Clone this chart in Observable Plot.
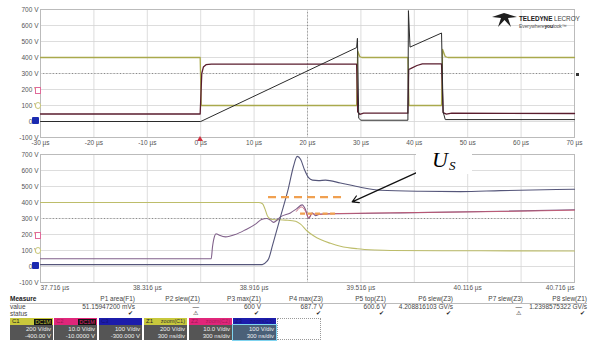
<!DOCTYPE html>
<html><head><meta charset="utf-8">
<script src="https://cdn.jsdelivr.net/npm/d3@7"></script>
<script src="https://cdn.jsdelivr.net/npm/@observablehq/plot@0.6"></script>
<style>
body{margin:0;background:#fff;font-family:"Liberation Sans",Arial,sans-serif;}
#root{position:relative;width:592px;height:351px;overflow:hidden;background:#fff;}
.abs{position:absolute;white-space:nowrap;}
.tb{font-size:6.5px;color:#444;line-height:7px;}
</style></head><body><div id="root"></div>
<script>
// ---------- data ----------
const yTicks = [-100, 0, 100, 200, 300, 400, 500, 600, 700];
const topXTicks = [-30, -20, -10, 0, 10, 20, 30, 40, 50, 60, 70];
const botGrid = [37.716, 38.016, 38.316, 38.616, 38.916, 39.216, 39.516, 39.816, 40.116, 40.416, 40.716];
const botLabels = [38.316, 38.916, 39.516, 40.116];
const botFirst = [37.716];
const botLast = [40.716];

// top panel (µs, V)
const topYellowT = [-30, -0.1, 0.1, 29.2, 29.4, 29.8, 30.2, 38.8, 39.0, 45.1, 45.3, 45.8, 46.3, 70];
const topYellowV = [400, 400, 100, 100, 440, 405, 400, 400, 100, 100, 450, 405, 400, 400];
const topMaroonT = [-30, -0.1, 0.2, 0.5, 1, 2, 29.2, 29.4, 29.8, 30.5, 38.8, 38.95, 39.3, 40.5, 41.5, 45.1, 45.4, 46, 47, 70];
const topMaroonV = [47, 47, 300, 340, 355, 358, 358, 60, 45, 52, 52, 325, 330, 350, 360, 360, 55, 46, 52, 50];
const topRampT = [-30, 0, 29.2, 29.35, 29.6, 30, 38.8, 38.9, 39.2, 45.1, 45.4, 45.8, 70];
const topRampV = [0, 0, 462, 520, 20, 8, 8, 693, 465, 553, 60, 12, 12];

// bottom (zoom) panel (µs, V)
const botYellowT = [37.716, 38.941, 38.963, 38.977, 38.990, 39.003, 39.018, 39.092, 39.149, 39.177, 39.214, 39.250, 39.289, 39.345, 39.401, 39.495, 39.598, 39.682, 40.188, 40.716];
const botYellowV = [400, 400, 392, 360, 318, 300, 294, 290, 283, 265, 222, 192, 168, 145, 127, 111, 103, 100, 98, 97];
const botPurpleT = [37.716, 38.675, 38.682, 38.694, 38.702, 38.716, 38.755, 38.811, 38.868, 38.924, 38.958, 38.986, 39.008, 39.025, 39.047, 39.064, 39.120, 39.154, 39.186, 39.205, 39.223, 39.242, 39.261, 39.289, 39.401, 39.738, 40.300, 40.716];
const botPurpleV = [48, 48, 120, 190, 205, 198, 185, 200, 230, 265, 294, 300, 290, 276, 292, 310, 335, 360, 385, 355, 300, 335, 318, 328, 330, 335, 345, 355];
const botRampT = [37.716, 38.962, 38.986, 38.999, 39.019, 39.064, 39.109, 39.137, 39.158, 39.177, 39.199, 39.222, 39.244, 39.278, 39.317, 39.401, 39.514, 39.626, 39.851, 40.076, 40.300, 40.716];
const botRampV = [12, 12, 30, 52, 130, 310, 490, 625, 688, 670, 605, 555, 540, 537, 540, 522, 495, 477, 470, 468, 474, 483];
const botRedT = [39.154, 39.182, 39.205, 39.222, 39.244, 39.278, 39.345, 39.738, 40.188, 40.716];
const botRedV = [345, 372, 345, 305, 330, 325, 330, 336, 342, 352];
const usUpperT = [38.997, 39.430], usUpperV = 433;
const usLowerT = [39.177, 39.385], usLowerV = 330;
const arrowFrom = [39.832, 588], arrowTo = [39.467, 404];

// measurement table
const measHeaders = ["P1 area(F1)", "P2 slew(Z1)", "P3 max(Z1)", "P4 max(Z3)", "P5 top(Z1)", "P6 slew(Z3)", "P7 slew(Z3)", "P8 slew(Z1)"];
const measValues = ["51.15947200 mVs", "\u2014", "600 V", "687.7 V", "600.6 V", "4.208816103 GV/s", "\u2014", "1.2398575322 GV/s"];
const measStatus = ["\u2714", "\u26A0", "\u2714", "\u2714", "\u2714", "\u2714", "\u26A0", "\u2714"];
const chanNames = ["C1", "C2", "C3", "Z1", "Z2", "Z3"];
const chanTags = ["DC1M", "DC1M", "", "zoom(C1)", "zoom(C2)", "zoom(C3)"];
const chanScale = ["200 V/div", "10.0 V/div", "100 V/div", "200 V/div", "10.0 V/div", "100 V/div"];
const chanOffset = ["-400.00 V", "-10.0000 V", "-300.000 V", "300 ns/div", "300 ns/div", "300 ns/div"];

// ---------- helpers ----------
const pts = (T, V) => T.map((t, i) => ({t, v: V[i]}));
const root = document.getElementById("root");
const FONT = '"Liberation Sans", Arial, sans-serif';

function place(el, top, left) {
  el.style.position = "absolute"; el.style.top = top + "px"; el.style.left = left + "px";
  root.appendChild(el);
}
const gridStyle = {stroke: "#d4d4d4", strokeOpacity: 1, strokeWidth: 0.8};

// ---------- top panel ----------
const topPlot = Plot.plot({
  width: 592, height: 150,
  marginLeft: 40, marginRight: 18, marginTop: 9, marginBottom: 13,
  style: {fontSize: "6.5px", fontFamily: FONT, background: "transparent", overflow: "visible"},
  x: {domain: [-30, 70], label: null},
  y: {domain: [-100, 700], label: null},
  marks: [
    Plot.gridX(topXTicks, gridStyle),
    Plot.gridY(yTicks, gridStyle),
    Plot.ruleY([300], {stroke: "#888", strokeDasharray: "1,2.2", strokeWidth: 1}),
    Plot.ruleX([20], {stroke: "#888", strokeDasharray: "1,2.2", strokeWidth: 1}),
    Plot.frame({stroke: "#bbb"}),
    Plot.axisY(yTicks, {tickSize: 0, tickPadding: 2, tickFormat: d => `${d} V`, fill: "#555", label: null}),
    Plot.axisX(topXTicks, {tickSize: 0, tickPadding: 3, tickFormat: d => `${d} µs`, fill: "#555", label: null}),
    Plot.line(pts(topYellowT, topYellowV), {x: "t", y: "v", stroke: "#a9a94c", strokeWidth: 1.3}),
    Plot.line(pts(topMaroonT, topMaroonV), {x: "t", y: "v", stroke: "#5a1d2e", strokeWidth: 1.3}),
    Plot.line(pts(topRampT, topRampV), {x: "t", y: "v", stroke: "#2b2b2b", strokeWidth: 1})
  ]
});
place(topPlot, 0, 0);

// ---------- bottom panel ----------
const botPlot = Plot.plot({
  width: 592, height: 146,
  marginLeft: 40, marginRight: 18, marginTop: 4, marginBottom: 14,
  style: {fontSize: "6.5px", fontFamily: FONT, background: "transparent", overflow: "visible"},
  x: {domain: [37.716, 40.716], label: null},
  y: {domain: [-100, 700], label: null},
  marks: [
    Plot.gridX(botGrid, gridStyle),
    Plot.gridY(yTicks, gridStyle),
    Plot.ruleY([300], {stroke: "#888", strokeDasharray: "1,2.2", strokeWidth: 1}),
    Plot.ruleX([39.216], {stroke: "#888", strokeDasharray: "1,2.2", strokeWidth: 1}),
    Plot.frame({stroke: "#bbb"}),
    Plot.axisY(yTicks, {tickSize: 0, tickPadding: 2, tickFormat: d => `${d} V`, fill: "#555", label: null}),
    Plot.axisX(botLabels, {tickSize: 0, tickPadding: 3, tickFormat: d => `${d.toFixed(3)} µs`, fill: "#555", label: null}),
    Plot.axisX(botFirst, {tickSize: 0, tickPadding: 3, tickFormat: d => `${d.toFixed(3)} µs`, fill: "#555", textAnchor: "start", label: null}),
    Plot.axisX(botLast, {tickSize: 0, tickPadding: 3, tickFormat: d => `${d.toFixed(3)} µs`, fill: "#555", textAnchor: "end", label: null}),
    Plot.line(pts(botYellowT, botYellowV), {x: "t", y: "v", stroke: "#bdbd6a", strokeWidth: 1.1, curve: "monotone-x"}),
    Plot.line(pts(botPurpleT, botPurpleV), {x: "t", y: "v", stroke: "#80608a", strokeWidth: 1.1, curve: "monotone-x"}),
    Plot.line(pts(botRedT, botRedV), {x: "t", y: "v", stroke: "#c4566e", strokeWidth: 1, strokeOpacity: 0.85, curve: "monotone-x"}),
    Plot.line(pts(botRampT, botRampV), {x: "t", y: "v", stroke: "#55567a", strokeWidth: 1.1, curve: "monotone-x"}),
    Plot.ruleY([usUpperV], {x1: usUpperT[0], x2: usUpperT[1], stroke: "#f0a050", strokeWidth: 2.2, strokeDasharray: "8,5"}),
    Plot.ruleY([usLowerV], {x1: usLowerT[0], x2: usLowerT[1], stroke: "#f0a050", strokeWidth: 2.2, strokeDasharray: "5,2.5"}),
    Plot.arrow([{x1: arrowFrom[0], y1: arrowFrom[1], x2: arrowTo[0], y2: arrowTo[1]}],
      {x1: "x1", y1: "y1", x2: "x2", y2: "y2", stroke: "#111", strokeWidth: 1.2, headLength: 9, bend: 0})
  ]
});
place(botPlot, 150, 0);

// ---------- channel offset markers & trigger markers ----------
function box(top, left, w, h, css) {
  const d = document.createElement("div");
  d.style.cssText = `width:${w}px;height:${h}px;` + css;
  place(d, top, left);
  return d;
}
[0, 145].forEach(off => {
  box(117 + off, 32, 7, 7, "background:#1a2ab0;border-radius:1px;");
  box(87 + off, 35, 4, 5, "border:1px solid #e06a9a;background:#fff;");
  box(102 + off, 35, 4, 5, "border:1px solid #c8c87a;border-radius:3px;background:#fff;");
});
const trig = document.createElementNS("http://www.w3.org/2000/svg", "svg");
trig.setAttribute("width", 6); trig.setAttribute("height", 5);
trig.innerHTML = '<polygon points="3,0 6,5 0,5" fill="#d03040"/>';
place(trig, 136, 197);
box(73, 576, 3, 3, "background:#333;");

// ---------- U_s label ----------
const us = document.createElement("div");
us.style.cssText = "width:56px;height:29px;background:#fff;overflow:hidden;font-family:'Liberation Serif','Times New Roman',serif;font-style:italic;color:#000;";
us.innerHTML = '<span style="position:absolute;left:16px;top:4px;font-size:22px;line-height:22px;">U</span><span style="position:absolute;left:33px;top:14px;font-size:13px;line-height:13px;">S</span>';
place(us, 145, 416);

// ---------- logo ----------
const logo = document.createElementNS("http://www.w3.org/2000/svg", "svg");
logo.setAttribute("width", 26); logo.setAttribute("height", 16);
logo.innerHTML = '<polygon points="0,5 12,1 25,5 16,6 19,15 12.5,8 6,15 9,6" fill="#1e1e1e"/>';
place(logo, 12, 492);
const lt = document.createElement("div");
lt.style.cssText = "font-size:6.4px;line-height:7px;color:#222;letter-spacing:-0.1px;";
lt.innerHTML = '<b>TELEDYNE</b> <span style="font-weight:normal;color:#444">LECROY</span><br><span style="font-size:5px;color:#555">Everywhere<b style="color:#222">you</b>look\u2122</span>';
place(lt, 15, 519);

// ---------- measurement table ----------
const colRight = [135, 200, 261, 323, 386, 453, 523, 587];
function txt(s, top, left, css) {
  const d = document.createElement("div");
  d.className = "abs tb"; d.textContent = s; if (css) d.style.cssText += css;
  place(d, top, left); return d;
}
txt("Measure", 295, 10, "font-weight:bold;color:#222;");
txt("value", 302.5, 10);
txt("status", 309.5, 10);
box(302.5, 10, 577, 0.8, "background:#bbb;");
measHeaders.forEach((h, i) => {
  const r = colRight[i];
  const a = txt(h, 295, 0); a.style.left = "auto"; a.style.right = (592 - r) + "px";
  const b = txt(measValues[i], 302.5, 0); b.style.left = "auto"; b.style.right = (592 - r - (measValues[i] === "\u2014" ? -1 : 0)) + "px";
  const c = txt(measStatus[i], 309.5, 0, "color:#222;font-size:6px;"); c.style.left = "auto"; c.style.right = (592 - r + 2) + "px";
});

// ---------- channel descriptor boxes ----------
const chanLeft = [10, 54, 99, 144, 189, 233];
const stripCol = ["#c8c83c", "#e0267a", "#1c1cab", "#c8c83c", "#e0267a", "#1c1cab"];
chanNames.forEach((n, i) => {
  const L = chanLeft[i];
  const strip = box(318, L, 43, 7, `background:${stripCol[i]};`);
  strip.innerHTML = `<span style="position:absolute;left:2px;top:0;font-size:6px;line-height:7px;color:${i % 3 === 0 ? '#222' : 'rgba(0,0,0,0.35)'};">${n}</span>`;
  if (i < 2) {
    strip.innerHTML += `<span style="position:absolute;right:1px;top:0.5px;height:6px;width:18px;background:#111;color:${stripCol[i]};font-size:5.5px;line-height:6px;text-align:center;">${chanTags[i]}</span>`;
  } else if (chanTags[i]) {
    strip.innerHTML += `<span style="position:absolute;right:2px;top:0;font-size:5.5px;line-height:7px;color:${i === 3 ? '#333' : 'rgba(0,0,0,0.3)'};">${chanTags[i]}</span>`;
  }
  const lower = box(325, L, 43, 15, i === 5 ? "background:#4a6078;box-shadow:0 0 0 1px #7fd4f0;" : "background:#555;");
  lower.innerHTML = `<div style="position:absolute;right:2px;top:1px;font-size:6px;line-height:6.5px;color:#eee;text-align:right;">${chanScale[i]}<br>${chanOffset[i]}</div>`;
});
box(318, 277, 44, 22, "border:1px dotted #999;box-sizing:border-box;");
</script></body></html>
